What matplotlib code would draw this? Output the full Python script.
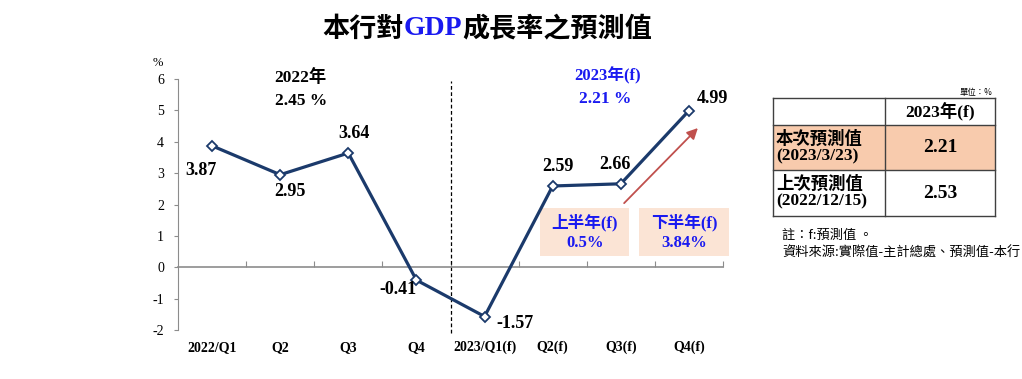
import matplotlib
matplotlib.use('Agg')
from matplotlib import pyplot as plt
from matplotlib.patches import Rectangle

# 資料
quarters = ['2022/Q1', 'Q2', 'Q3', 'Q4', '2023/Q1(f)', 'Q2(f)', 'Q3(f)', 'Q4(f)']
gdp = [3.87, 2.95, 3.64, -0.41, -1.57, 2.59, 2.66, 4.99]
label_offsets = [(-8, -18), (7, -12), (4, 14), (-13, -7), (22, -5), (4, 14), (-4, 14), (17, 9)]
yticks = [-2, -1, 0, 1, 2, 3, 4, 5, 6]
year_2022 = ['2022年', '2.45 %']
year_2023 = ['2023年(f)', '2.21 %']
half_boxes = [('上半年(f)', '0.5%'), ('下半年(f)', '3.84%')]
tbl_header = '2023年(f)'
tbl_rows = [('本次預測值\n(2023/3/23)', '2.21'), ('上次預測值\n(2022/12/15)', '2.53')]
notes = ['註：f:預測值 。', '資料來源:實際值-主計總處、預測值-本行']

SERIF = ['Liberation Serif', 'Noto Sans CJK TC']
CJK = ['Noto Sans CJK TC', 'DejaVu Sans']
NAVY = '#1B3A6B'
BLUE = '#1A1AF0'
GRAY = '#8C8C8C'

fig = plt.figure(figsize=(10.22, 3.79), dpi=100)

# 標題
t1 = fig.text(0.315, 0.925, '本行對', fontsize=19.5, fontweight='bold', family=CJK, va='center')
t2 = fig.text(0, 0.925, 'GDP', fontsize=20, fontweight='bold', family=SERIF, color=BLUE, va='center')
fig.canvas.draw()
r = fig.canvas.get_renderer()
bb = t1.get_window_extent(r)
t2.set_position((bb.x1 / 1022, 0.925))
bb2 = t2.get_window_extent(r)
fig.text(bb2.x1 / 1022, 0.925, '成長率之預測值', fontsize=19.5, fontweight='bold', family=CJK, va='center')

# 折線圖
ax = fig.add_axes([178 / 1022, 1 - 330 / 379, 545 / 1022, 251 / 379])
x = list(range(len(quarters)))
ax.plot(x, gdp, color=NAVY, lw=2.3, marker='D', ms=5.5, mfc='white', mec=NAVY, mew=1.3, zorder=3)
ax.set_xlim(-0.5, len(quarters) - 0.5)
ax.set_ylim(-2, 6)
ax.set_yticks(yticks)
ax.set_yticklabels([str(v) for v in yticks], family=SERIF, fontsize=10)
ax.tick_params(axis='y', direction='out', length=3, color=GRAY, pad=7)
for s in ['top', 'right']:
    ax.spines[s].set_visible(False)
ax.spines['left'].set_color(GRAY)
ax.spines['bottom'].set_position(('data', 0))
ax.spines['bottom'].set_color(GRAY)
ax.spines['bottom'].set_linewidth(1.2)
ax.set_xticks([i + 0.5 for i in x])
ax.set_xticklabels([])
ax.tick_params(axis='x', direction='in', length=4, color=GRAY)
for i, q in enumerate(quarters):
    ax.text(i, -2.55, q, ha='center', va='center', fontsize=10, fontweight='bold', family=SERIF, clip_on=False)
ax.text(-0.8, 6.5, '%', ha='center', va='center', fontsize=9, family=SERIF, clip_on=False)

for i, v in enumerate(gdp):
    ax.annotate(f'{v:.2f}', (i, v), xytext=label_offsets[i], textcoords='offset points',
                ha='center', va='center', fontsize=13, fontweight='bold', family=SERIF)

# 分隔虛線
ax.plot([3.5, 3.5], [-2.1, 5.95], color='black', lw=0.9, ls=(0, (3, 2)), clip_on=False)

ax.text(1.3, 6.05, year_2022[0], ha='center', va='center', fontsize=12.5, fontweight='bold', family=SERIF)
ax.text(1.3, 5.3, year_2022[1], ha='center', va='center', fontsize=12.5, fontweight='bold', family=SERIF)
ax.text(5.8, 6.1, year_2023[0], ha='center', va='center', fontsize=12, fontweight='bold', family=SERIF, color=BLUE)
ax.text(5.77, 5.35, year_2023[1], ha='center', va='center', fontsize=12.5, fontweight='bold', family=SERIF, color=BLUE)

# 上下半年框
box_x = [(4.82, 6.12), (6.27, 7.59)]
for (x0, x1), (lab, val) in zip(box_x, half_boxes):
    ax.add_patch(Rectangle((x0, 0.35), x1 - x0, 1.53, facecolor='#FBE4D5', edgecolor='none', zorder=1, clip_on=False))
    xc = (x0 + x1) / 2
    ax.text(xc, 1.43, lab, ha='center', va='center', fontsize=12, fontweight='bold', family=SERIF, color=BLUE)
    ax.text(xc, 0.78, val, ha='center', va='center', fontsize=12, fontweight='bold', family=SERIF, color=BLUE)

ax.annotate('', xy=(7.16, 4.5), xytext=(6.02, 1.98),
            arrowprops=dict(arrowstyle='-|>', color='#C0504D', lw=1.3, mutation_scale=16))

# 右側表格 (像素座標)
tb = fig.add_axes([773 / 1022, 1 - 216 / 379, 222 / 1022, 118 / 379])
tb.set_xlim(773, 995)
tb.set_ylim(216, 98)
tb.axis('off')
col = [773, 885, 995]
rows = [98, 125, 170, 216]
tb.add_patch(Rectangle((773, 125), 222, 45, facecolor='#F8CBAD', edgecolor='none'))
for yy in rows:
    tb.plot([773, 995], [yy, yy], color='#404040', lw=1, clip_on=False)
for xx in col:
    tb.plot([xx, xx], [98, 216], color='#404040', lw=1, clip_on=False)
tb.text(940, 112, tbl_header, ha='center', va='center', fontsize=12.5, fontweight='bold', family=SERIF)
for k, (lab, val) in enumerate(tbl_rows):
    yc = (rows[k + 1] + rows[k + 2]) / 2
    tb.text(776, yc, lab, ha='left', va='center', fontsize=12.5, fontweight='bold', family=SERIF, linespacing=1.05)
    tb.text(940, yc, val, ha='center', va='center', fontsize=14, fontweight='bold', family=SERIF)
fig.text(992 / 1022, 1 - 92 / 379, '單位：%', ha='right', va='center', fontsize=6, family=CJK)
fig.text(782 / 1022, 1 - 235 / 379, notes[0], ha='left', va='center', fontsize=9.5, family=CJK)
fig.text(782 / 1022, 1 - 253 / 379, notes[1], ha='left', va='center', fontsize=9.5, family=CJK)

plt.savefig('out.png', dpi=100)
plt.close('all')
